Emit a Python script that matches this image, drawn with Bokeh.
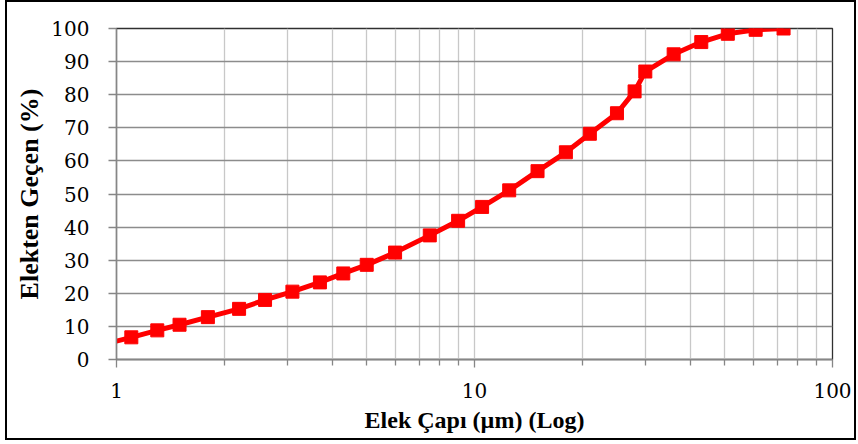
from bokeh.plotting import figure
from bokeh.models import FixedTicker, CustomJSTickFormatter, Range1d
from bokeh.embed import file_html
from bokeh.resources import INLINE

# Data
sieve_um = [0.9, 1.1, 1.3, 1.5, 1.8, 2.2, 2.6, 3.1, 3.7, 4.3, 5.0, 6.0, 7.5, 9.0,
            10.5, 12.5, 15.0, 18.0, 21.0, 25.0, 28.0, 30.0, 36.0, 43.0, 51.0, 61.0, 73.0]
passing_pct = [4.3, 6.7, 8.8, 10.5, 12.8, 15.3, 18.0, 20.5, 23.3, 26.0, 28.6, 32.3, 37.5, 41.9,
               46.1, 51.1, 56.9, 62.6, 68.2, 74.4, 81.0, 87.0, 92.2, 95.9, 98.4, 99.6, 100.0]

x_major = [1, 10, 100]
x_minor = [2, 3, 4, 5, 6, 7, 8, 9, 20, 30, 40, 50, 60, 70, 80, 90]
y_major = [0, 10, 20, 30, 40, 50, 60, 70, 80, 90, 100]

x_title = "Elek Çapı (µm) (Log)"
y_title = "Elekten Geçen (%)"

FONT = "Liberation Serif"
TICK_FONT = "DejaVu Serif"

p = figure(width=851, height=440, x_axis_type="log",
           x_range=Range1d(1, 100), y_range=Range1d(0, 100),
           output_backend="svg", toolbar_location=None,
           min_border_left=109, min_border_top=26, min_border_right=26, min_border_bottom=83)
p.styles = {"border": "2px solid black", "margin-left": "5px"}

p.outline_line_color = "#303030"
p.outline_line_width = 1.3

# Grids
p.xgrid.ticker = FixedTicker(ticks=x_major, minor_ticks=x_minor)
p.xgrid.grid_line_color = "#c8c8c8"
p.xgrid.grid_line_width = 1.3
p.xgrid.minor_grid_line_color = "#c8c8c8"
p.xgrid.minor_grid_line_width = 1.3
p.ygrid.ticker = FixedTicker(ticks=y_major)
p.ygrid.grid_line_color = "#8c8c8c"
p.ygrid.grid_line_width = 1.3

# X axis
xa = p.xaxis[0]
xa.ticker = FixedTicker(ticks=x_major, minor_ticks=x_minor)
xa.formatter = CustomJSTickFormatter(code="return tick.toString()")
xa.axis_line_color = "#868686"
xa.axis_line_width = 1.3
xa.major_tick_line_color = "#868686"
xa.minor_tick_line_color = "#868686"
xa.major_tick_line_width = 1.3
xa.minor_tick_line_width = 1.3
xa.major_tick_out = 8
xa.major_tick_in = 0
xa.minor_tick_out = 6
xa.minor_tick_in = 0
xa.major_label_text_font = TICK_FONT
xa.major_label_text_font_size = "20px"
xa.major_label_text_color = "black"
xa.major_label_standoff = 15
xa.axis_label = x_title
xa.axis_label_text_font = FONT
xa.axis_label_text_font_style = "bold"
xa.axis_label_text_font_size = "24px"
xa.axis_label_text_color = "black"
xa.axis_label_standoff = 6

# Y axis
ya = p.yaxis[0]
ya.ticker = FixedTicker(ticks=y_major)
ya.axis_line_color = "#868686"
ya.axis_line_width = 1.3
ya.major_tick_line_color = "#868686"
ya.major_tick_line_width = 1.3
ya.major_tick_out = 8
ya.major_tick_in = 0
ya.minor_tick_line_color = None
ya.major_label_text_font = TICK_FONT
ya.major_label_text_font_size = "20px"
ya.major_label_text_color = "black"
ya.major_label_standoff = 19
ya.axis_label = y_title
ya.axis_label_text_font = FONT
ya.axis_label_text_font_style = "bold"
ya.axis_label_text_font_size = "26px"
ya.axis_label_text_color = "black"
ya.axis_label_standoff = 4

# Series
p.line(sieve_um, passing_pct, line_color="#ff0000", line_width=5)
p.scatter(sieve_um, passing_pct, marker="square", size=13,
          fill_color="#ff0000", line_color="#ff0000")

open("out.html", "w").write(file_html(p, INLINE))
